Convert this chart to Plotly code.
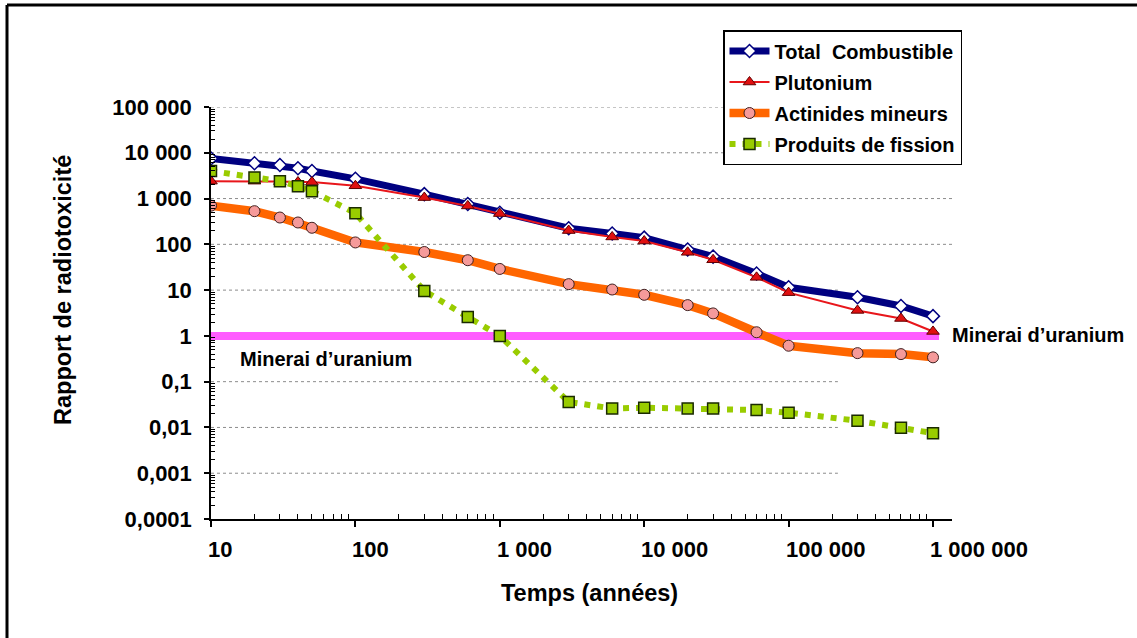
import math
import plotly.graph_objects as go

# ---------------- data ----------------
years = [10, 20, 30, 40, 50, 100, 300, 600, 1000, 3000, 6000, 10000,
         20000, 30000, 60000, 100000, 300000, 600000, 1000000]
total_combustible = [7500, 5900, 5400, 4600, 4000, 2700, 1250, 760, 490, 225, 172, 140,
                     77, 54, 23, 11.5, 7.0, 4.5, 2.7]
plutonium = [2400, 2400, 2350, 2300, 2300, 1900, 1050, 690, 470, 200, 145, 118,
             67, 46, 19, 8.8, 3.6, 2.4, 1.25]
actinides_mineurs = [700, 530, 385, 300, 230, 110, 68, 45, 29, 13.5, 10.3, 7.9,
                     4.7, 3.1, 1.2, 0.61, 0.42, 0.40, 0.34]
produits_fission = [4000, 2900, 2400, 1850, 1450, 480, 9.6, 2.6, 1.0, 0.036, 0.026, 0.027,
                    0.026, 0.026, 0.024, 0.021, 0.014, 0.0098, 0.0075]

ore_years = [10, 1100000]
ore_level = [1, 1]
ore_label = "Minerai d\u2019uranium"

series_names = ["Total  Combustible", "Plutonium", "Actinides mineurs", "Produits de fission"]

x_tick_vals = [10, 100, 1000, 10000, 100000, 1000000]
x_tick_text = ["10", "100", "1 000", "10 000", "100 000", "1 000 000"]
y_tick_vals = [0.0001, 0.001, 0.01, 0.1, 1, 10, 100, 1000, 10000, 100000]
y_tick_text = ["0,0001", "0,001", "0,01", "0,1", "1", "10", "100", "1 000", "10 000", "100 000"]
# gridline extents (fraction of plot width)
grid_extent = [None, 0.846, 0.846, 0.846, None, 0.846, 1.0, 1.0, 1.0, 1.0]

x_title = "Temps (ann\u00e9es)"
y_title = "Rapport de radiotoxicit\u00e9"

# ---------------- layout geometry ----------------
W, H = 1137, 638
L, R, T, B = 211, 952, 107, 519
pw, ph = R - L, B - T


def px(x):
    return (x - L) / pw


def py(y):
    return (B - y) / ph


FONT = "Liberation Sans, Arial, sans-serif"

fig = go.Figure()

# ore reference line
fig.add_trace(go.Scatter(x=ore_years, y=ore_level, mode="lines",
                         line=dict(color="#FF5CFF", width=8),
                         showlegend=False, hoverinfo="skip"))

fig.add_trace(go.Scatter(
    x=years, y=total_combustible, name=series_names[0], mode="lines+markers",
    legendgroup="a",
    line=dict(color="#000080", width=7),
    marker=dict(symbol="diamond", size=10, color="white", line=dict(color="#000080", width=1.5))))

fig.add_trace(go.Scatter(
    x=years, y=plutonium, name=series_names[1], mode="lines+markers",
    legendgroup="b",
    line=dict(color="#E8161B", width=2),
    marker=dict(symbol="triangle-up", size=11, color="#E01010", line=dict(color="#600000", width=1))))

fig.add_trace(go.Scatter(
    x=years, y=actinides_mineurs, name=series_names[2], mode="lines+markers",
    legendgroup="c",
    line=dict(color="#FF6600", width=8.5),
    marker=dict(symbol="circle", size=11, color="#F59A9A", line=dict(color="#402020", width=1))))

fig.add_trace(go.Scatter(
    x=years, y=produits_fission, name=series_names[3], mode="lines+markers",
    legendgroup="d",
    line=dict(color="#99CC00", width=6, dash="6px,7px"),
    marker=dict(symbol="square", size=11, color="#99CC00", line=dict(color="#1A2A00", width=1.5))))

shapes = []
# horizontal dotted gridlines
for v, ext in zip(y_tick_vals, grid_extent):
    if ext is None:
        continue
    shapes.append(dict(type="line", xref="x domain", yref="y", x0=0, x1=ext, y0=v, y1=v,
                       line=dict(color="#8C8C8C", width=1, dash="dot"), layer="below"))
# outer frame (left and top edges visible)
shapes.append(dict(type="line", xref="paper", yref="paper", x0=px(7), x1=px(7),
                   y0=py(700), y1=py(5), line=dict(color="black", width=3)))
shapes.append(dict(type="line", xref="paper", yref="paper", x0=px(7), x1=px(1200),
                   y0=py(5), y1=py(5), line=dict(color="black", width=3)))

annotations = []
for v, t in zip(x_tick_vals, x_tick_text):
    annotations.append(dict(x=math.log10(v), xref="x", y=py(549.5), yref="paper",
                            text=t, showarrow=False, xanchor="left", yanchor="middle",
                            xshift=-5, font=dict(family=FONT, size=22, color="black", weight="bold")))
annotations.append(dict(x=px(589), y=py(593), xref="paper", yref="paper", text=x_title,
                        showarrow=False, xanchor="center", yanchor="middle",
                        font=dict(family=FONT, size=23.5, color="black", weight="bold")))
annotations.append(dict(x=px(63), y=py(290), xref="paper", yref="paper", text=y_title,
                        showarrow=False, textangle=-90, xanchor="center", yanchor="middle",
                        font=dict(family=FONT, size=23.5, color="black", weight="bold")))
annotations.append(dict(x=px(240), y=py(359), xref="paper", yref="paper", text=ore_label,
                        showarrow=False, xanchor="left", yanchor="middle", xshift=-2,
                        font=dict(family=FONT, size=20, color="black", weight="bold")))
annotations.append(dict(x=px(952), y=py(335), xref="paper", yref="paper", text=ore_label,
                        showarrow=False, xanchor="left", yanchor="middle", xshift=-2,
                        font=dict(family=FONT, size=20, color="black", weight="bold")))

minor_x = [m * 10 ** e for e in range(1, 7) for m in range(2, 10)]
minor_y = [m * 10 ** e for e in range(-4, 5) for m in range(2, 10)]

fig.update_layout(
    width=W, height=H,
    margin=dict(l=L, r=W - R, t=T, b=H - B, autoexpand=False),
    paper_bgcolor="white", plot_bgcolor="white",
    font=dict(family=FONT, size=20, color="black", weight="bold"),
    showlegend=True,
    legend=dict(x=px(723), y=py(30), xanchor="left", yanchor="top",
                bgcolor="white", bordercolor="black", borderwidth=1.5,
                font=dict(family=FONT, size=20, color="black", weight="bold"),
                tracegroupgap=2, itemwidth=40, entrywidth=250),
    xaxis=dict(type="log", range=[1, 1 + (R - L) / 144.4], showgrid=False, zeroline=False,
               showline=True, linecolor="black", linewidth=1.5,
               ticks="outside", ticklen=6, tickwidth=1.5, tickcolor="black",
               tickvals=x_tick_vals, showticklabels=False,
               minor=dict(tickvals=minor_x, ticks="inside", ticklen=5, tickcolor="black",
                          tickwidth=1, showgrid=False)),
    yaxis=dict(type="log", range=[-4, 5], showgrid=False, zeroline=False,
               showline=True, linecolor="black", linewidth=1.5,
               ticks="outside", ticklen=5, tickwidth=1.5, tickcolor="black",
               tickvals=y_tick_vals, ticktext=y_tick_text, ticklabelstandoff=8,
               tickfont=dict(family=FONT, size=22, color="black", weight="bold"),
               minor=dict(tickvals=minor_y, ticks="inside", ticklen=4, tickcolor="black",
                          tickwidth=1, showgrid=False)),
    shapes=shapes,
    annotations=annotations,
)

fig.write_html("out.html", config={"displayModeBar": False},
               post_script="document.body.style.margin='0px';")
